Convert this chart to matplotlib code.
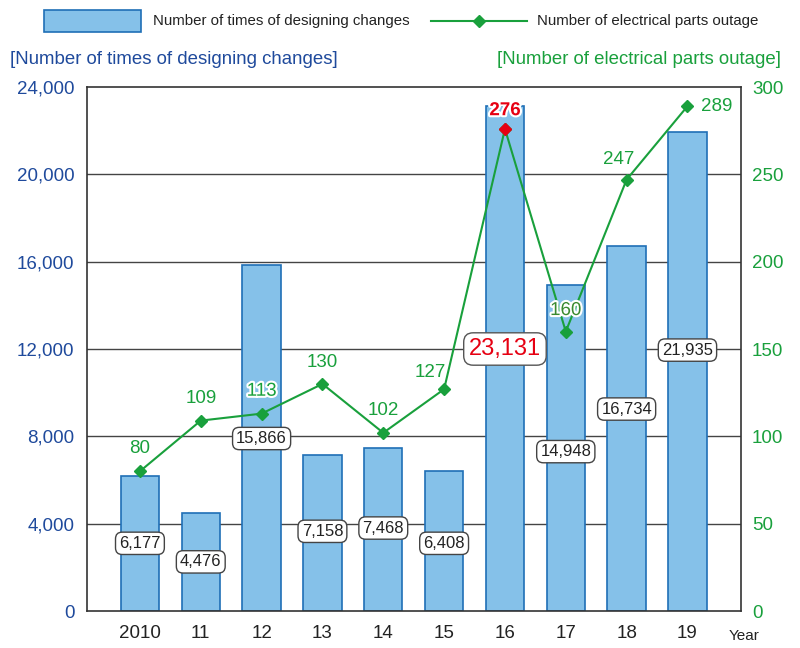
import matplotlib
matplotlib.use('Agg')
import matplotlib.pyplot as plt
import matplotlib.patheffects as pe
from matplotlib.lines import Line2D
from matplotlib.patches import Rectangle

plt.rcParams['font.family'] = ['Liberation Sans', 'DejaVu Sans']

# data
years = ['2010', '11', '12', '13', '14', '15', '16', '17', '18', '19']
design_changes = [6177, 4476, 15866, 7158, 7468, 6408, 23131, 14948, 16734, 21935]
parts_outage = [80, 109, 113, 130, 102, 127, 276, 160, 247, 289]

left_ticks = [0, 4000, 8000, 12000, 16000, 20000, 24000]
right_ticks = [0, 50, 100, 150, 200, 250, 300]

# where the bar labels sit (left axis units)
bar_label_y = [3100, 2250, 7900, 3650, 3800, 3100, 12000, 7300, 9250, 11950]
# offsets of line labels in points (dx, dy)
line_label_off = [(0, 10), (0, 10), (0, 10), (0, 9), (0, 10), (-10, 6),
                  (0, 7), (0, 9), (-6, 8), (10, 0)]

bar_face = '#85c1e9'
bar_edge = '#1f6fb6'
green = '#19a03c'
blue = '#1f4a9c'
red = '#e60012'

fig = plt.figure(figsize=(8, 6.48), dpi=100)
ax = fig.add_axes([87/800, 1-611/648, (741-87)/800, (611-87)/648])
ax2 = ax.twinx()

x = list(range(len(years)))
ax.bar(x, design_changes, width=0.63, color=bar_face, edgecolor=bar_edge,
       linewidth=1.2, zorder=2)
ax.set_ylim(0, 24000)
ax.set_xlim(-0.87, 9.88)
ax.set_yticks(left_ticks)
ax.set_yticklabels([f'{v:,}' for v in left_ticks])
ax.set_xticks(x)
ax.set_xticklabels(years)
ax.tick_params(axis='y', length=0, labelsize=13.5, labelcolor=blue, pad=9)
ax.tick_params(axis='x', length=0, labelsize=13.5, labelcolor='#222222', pad=10)
for t in left_ticks[1:-1]:
    ax.axhline(t, color='#444444', linewidth=1.0, zorder=1)
for s in ax.spines.values():
    s.set_color('#333333')
    s.set_linewidth(1.2)

for i, v in enumerate(design_changes):
    if i == 6:
        ax.text(i, bar_label_y[i], f'{v:,}', ha='center', va='center',
                fontsize=17, color=red, zorder=6,
                bbox=dict(boxstyle='round,pad=0.22,rounding_size=0.4',
                          fc='white', ec='#555555', lw=1))
    else:
        ax.text(i, bar_label_y[i], f'{v:,}', ha='center', va='center',
                fontsize=12, color='#222222', zorder=6,
                bbox=dict(boxstyle='round,pad=0.22,rounding_size=0.4',
                          fc='white', ec='#444444', lw=1))

ax2.plot(x, parts_outage, color=green, linewidth=1.5, marker='D',
         markersize=6, zorder=4)
ax2.plot([6], [parts_outage[6]], linestyle='none', marker='D', markersize=6,
         color=red, zorder=5)
ax2.set_ylim(0, 300)
ax2.set_yticks(right_ticks)
ax2.tick_params(axis='y', length=0, labelsize=13.5, labelcolor=green, pad=8)
for s in ax2.spines.values():
    s.set_visible(False)
ax.set_zorder(ax2.get_zorder() - 1)
ax.patch.set_visible(True)
ax2.patch.set_visible(False)

outline = [pe.withStroke(linewidth=3, foreground='white')]
for i, v in enumerate(parts_outage):
    dx, dy = line_label_off[i]
    col = green
    ha = 'center'
    if i == 6:
        col = red
    if i == 7:
        col = '#3a8a30'
    if i == 9:
        ha = 'left'
    t = ax2.annotate(str(v), (i, v), xytext=(dx, dy), textcoords='offset points',
                     ha=ha, va='bottom' if i != 9 else 'center',
                     fontsize=13.5, color=col, zorder=7,
                     fontweight='bold' if i == 6 else 'normal')
    if i in (2, 6, 7):
        t.set_path_effects(outline)

fig.text(729/800, 1-636/648, 'Year', fontsize=11, color='#222222', va='center')
fig.text(10/800, 1-59/648, '[Number of times of designing changes]', fontsize=13.4,
         color=blue, va='center')
fig.text(781/800, 1-59/648, '[Number of electrical parts outage]', fontsize=13.4,
         color=green, va='center', ha='right')

# legend drawn by hand, the two keys have different widths
fig.patches.append(Rectangle((44/800, 1-32/648), 97/800, 22/648,
                             transform=fig.transFigure, facecolor=bar_face,
                             edgecolor=bar_edge, linewidth=1.2))
fig.text(153/800, 1-21/648, 'Number of times of designing changes',
         fontsize=10.8, color='#222222', va='center')
fig.lines.append(Line2D([431/800, 527/800], [1-21/648, 1-21/648],
                        transform=fig.transFigure, color=green, linewidth=1.5))
fig.lines.append(Line2D([479/800], [1-21/648], transform=fig.transFigure,
                        color=green, marker='D', markersize=6, linestyle='none'))
fig.text(537/800, 1-21/648, 'Number of electrical parts outage',
         fontsize=10.8, color='#222222', va='center')

fig.savefig('out.png', dpi=100)
